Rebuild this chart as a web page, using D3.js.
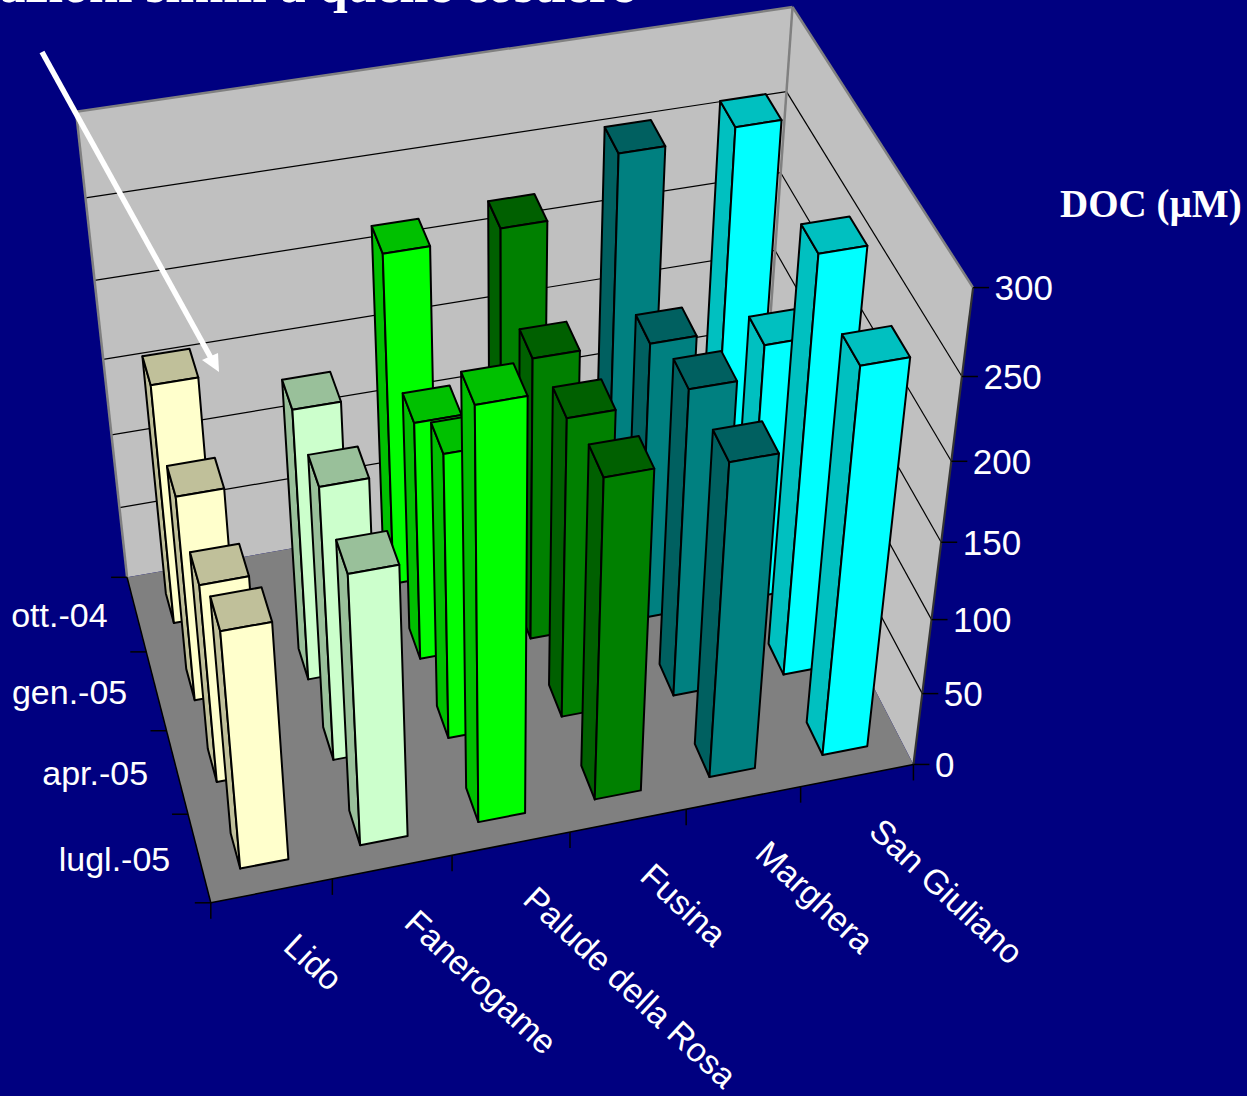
<!DOCTYPE html>
<html><head><meta charset="utf-8"><script src="https://cdn.jsdelivr.net/npm/d3@7"></script>
<style>html,body{margin:0;background:#000080;overflow:hidden}svg{display:block}</style></head>
<body><svg id="c" width="1247" height="1096"></svg>
<script>
// Dissolved organic carbon by sampling site and month
const sites = ["Lido", "Fanerogame", "Palude della Rosa", "Fusina", "Marghera", "San Giuliano"];
const periods = ["lugl.-05", "apr.-05", "gen.-05", "ott.-04"]; // front row to back row
const ott04 = [162, null, 220, 224, 258, 263];
const gen05 = [139, 181, 160, 188, 185, 172];
const apr05 = [134, 182, 189, 198, 203, 271];
const lug05 = [159, 180, 266, 211, 207, 251];
const valueTicks = [0, 50, 100, 150, 200, 250, 300];
const frontColors = ["#ffffcc", "#ccffcc", "#00ff00", "#008000", "#008080", "#00ffff"];
const shadeColors = ["#c0c09a", "#99c09a", "#00c000", "#006000", "#006060", "#00c0c0"];
const seriesByPeriod = { "lugl.-05": lug05, "apr.-05": apr05, "gen.-05": gen05, "ott.-04": ott04 };

// Camera: box corners (u, v, w in 0..1) with their screen positions, fitted to a projective matrix
const cameraFit = [[0,0,0,211,903],[1,0,0,914,764],[0,1,0,127,577],[1,1,0,759,466],[0,1,1,76,112],
  [1,1,1,793,6],[1,0,1,972,287],[1,0,1/3,932,620],[1,0,1/6,922,694],[1,1,5/6,787,93]];

function solve(A, b) {
  const n = b.length;
  A = A.map((r, i) => [...r, b[i]]);
  for (let i = 0; i < n; i++) {
    let p = i;
    for (let r = i + 1; r < n; r++) if (Math.abs(A[r][i]) > Math.abs(A[p][i])) p = r;
    [A[i], A[p]] = [A[p], A[i]];
    for (let r = 0; r < n; r++) if (r !== i) {
      const f = A[r][i] / A[i][i];
      for (let c = i; c <= n; c++) A[r][c] -= f * A[i][c];
    }
  }
  return A.map((r, i) => r[n] / r[i]);
}
const eqs = [], rhs = [];
cameraFit.forEach(([u, v, w, x, y]) => {
  x /= 1000; y /= 1000;
  eqs.push([u, v, w, 1, 0, 0, 0, 0, -x*u, -x*v, -x*w]); rhs.push(x);
  eqs.push([0, 0, 0, 0, u, v, w, 1, -y*u, -y*v, -y*w]); rhs.push(y);
});
const m = solve(d3.range(11).map(i => d3.range(11).map(j => d3.sum(eqs, r => r[i]*r[j]))),
                d3.range(11).map(i => d3.sum(eqs, (r, k) => r[i]*rhs[k])));
const proj = (u, v, w) => {
  const d = m[8]*u + m[9]*v + m[10]*w + 1;
  return [1000*(m[0]*u + m[1]*v + m[2]*w + m[3])/d, 1000*(m[4]*u + m[5]*v + m[6]*w + m[7])/d];
};

const xS = d3.scaleBand().domain(sites).range([0, 1]).paddingInner(.6).paddingOuter(.3);
const zS = d3.scaleBand().domain(periods).range([0, 1]).paddingInner(.6).paddingOuter(.3);
const yS = d3.scaleLinear().domain([0, 300]).range([0, 1]);
const step = xS.step(), zStep = zS.step();

const svg = d3.select("#c");
const sans = "'Liberation Sans', Arial, sans-serif", serif = "'Liberation Serif', 'Times New Roman', serif";
const poly = (g, pts, fill, stroke, sw) => g.append("polygon")
  .attr("points", pts.map(p => p.map(n => n.toFixed(2)).join(",")).join(" "))
  .attr("fill", fill).attr("stroke", stroke || "none").attr("stroke-width", sw || 0).attr("stroke-linejoin", "round");
const seg = (g, a, b, color, sw) => g.append("line")
  .attr("x1", a[0]).attr("y1", a[1]).attr("x2", b[0]).attr("y2", b[1]).attr("stroke", color).attr("stroke-width", sw);

// Walls and floor
const box = svg.append("g");
poly(box, [proj(0,1,0), proj(1,1,0), proj(1,1,1), proj(0,1,1)], "#c0c0c0");
poly(box, [proj(1,1,0), proj(1,0,0), proj(1,0,1), proj(1,1,1)], "#c0c0c0");
poly(box, [proj(0,0,0), proj(1,0,0), proj(1,1,0), proj(0,1,0)], "#808080");

// Gridlines on both walls
valueTicks.slice(1, -1).forEach(t => {
  const w = yS(t);
  seg(box, proj(0,1,w), proj(1,1,w), "#000", 1.2);
  seg(box, proj(1,1,w), proj(1,0,w), "#000", 1.2);
});

// Wall edges
[[[0,1,0],[0,1,1]], [[0,1,1],[1,1,1]], [[1,1,1],[1,0,1]], [[1,1,0],[1,1,1]]].forEach(([a, b]) =>
  seg(box, proj(...a), proj(...b), "#808080", 2.5));
seg(box, proj(1,0,0), proj(1,0,1), "#333", 2.2);
seg(box, proj(0,0,0), proj(1,0,0), "#000", 1.5);
seg(box, proj(0,0,0), proj(0,1,0), "#000", 1.5);

// Axis ticks and labels
const axes = svg.append("g");
valueTicks.forEach(t => {
  const p = proj(1, 0, yS(t));
  seg(axes, p, [p[0] + 16, p[1]], "#000", 1.5);
  axes.append("text").attr("x", p[0] + 21.5).attr("y", p[1]).attr("dy", "0.35em")
    .attr("fill", "#fff").attr("font-family", sans).attr("font-size", 35).text(t);
});
d3.range(sites.length + 1).forEach(i => {
  const p = proj(i * step, 0, 0);
  seg(axes, p, [p[0], p[1] + 16], "#000", 1.5);
});
d3.range(periods.length + 1).forEach(i => {
  const p = proj(0, i * zStep, 0);
  seg(axes, p, [p[0] - 16, p[1]], "#000", 1.5);
});
periods.forEach(d => {
  const p = proj(0, zS(d) + zS.bandwidth() / 2, 0);
  axes.append("text").attr("x", p[0] - 29).attr("y", p[1] + 1.5).attr("dy", "0.35em").attr("text-anchor", "end")
    .attr("fill", "#fff").attr("font-family", sans).attr("font-size", 34).text(d);
});
sites.forEach(d => {
  const p = proj(xS(d) + xS.bandwidth() / 2, 0, 0);
  axes.append("text").attr("transform", `translate(${p[0] + 10},${p[1] + 58}) rotate(43)`)
    .attr("fill", "#fff").attr("font-family", sans).attr("font-size", 34).text(d);
});

// Bars, painted back row first and right to left within a row
const bars = svg.append("g");
[...periods].reverse().forEach(per => {
  const vals = seriesByPeriod[per];
  d3.range(sites.length - 1, -1, -1).forEach(i => {
    if (vals[i] == null) return;
    const u0 = xS(sites[i]), u1 = u0 + xS.bandwidth(), v0 = zS(per), v1 = v0 + zS.bandwidth(), w = yS(vals[i]);
    const g = bars.append("g");
    poly(g, [proj(u0,v0,0), proj(u0,v1,0), proj(u0,v1,w), proj(u0,v0,w)], shadeColors[i], "#000", 2);
    poly(g, [proj(u0,v0,w), proj(u0,v1,w), proj(u1,v1,w), proj(u1,v0,w)], shadeColors[i], "#000", 2);
    poly(g, [proj(u0,v0,0), proj(u1,v0,0), proj(u1,v0,w), proj(u0,v0,w)], frontColors[i], "#000", 2);
  });
});

// Axis title, slide heading and pointer arrow
svg.append("text").attr("x", 1060).attr("y", 217).attr("fill", "#fff")
  .attr("font-family", serif).attr("font-weight", "bold").attr("font-size", 39).text("DOC (µM)");
svg.append("text").attr("x", 634).attr("y", 2).attr("text-anchor", "end").attr("fill", "#fff")
  .attr("font-family", serif).attr("font-weight", "bold").attr("font-size", 52).text("azioni simili a quelle costiere");
svg.append("line").attr("x1", 42).attr("y1", 52).attr("x2", 211).attr("y2", 358)
  .attr("stroke", "#fff").attr("stroke-width", 5.5);
svg.append("polygon").attr("points", "219,372 202,360 218,353").attr("fill", "#fff");
</script></body></html>
